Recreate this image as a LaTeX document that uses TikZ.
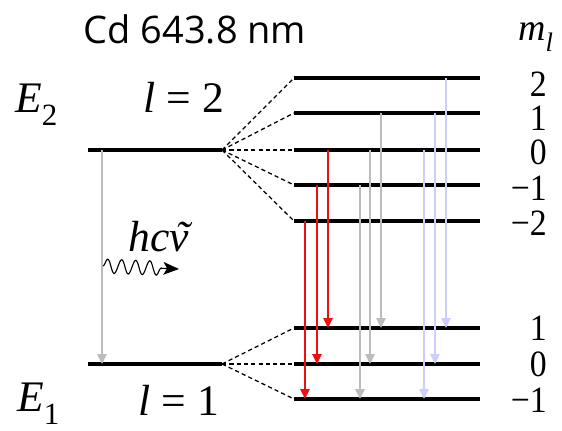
\documentclass[tikz,border=0pt]{standalone}
\usepackage{fontspec}
\setmainfont{Liberation Serif}
\newfontfamily\titlesans{Open Sans}
\usetikzlibrary{arrows.meta,decorations.pathmorphing}
\definecolor{ink}{RGB}{0,0,0}
\definecolor{redline}{RGB}{238,16,16}
\definecolor{greyline}{RGB}{188,188,188}
\definecolor{lilac}{RGB}{206,206,252}
\newcommand{\lowsub}[1]{\raisebox{-0.3em}{\fontsize{22}{24}\selectfont #1}}
\newcommand{\nutilde}{\ooalign{ν\cr\hidewidth\kern0.15em˜\hidewidth\cr}}
\tikzset{
  lvl/.style={line width=2.8pt, draw=ink},
  split/.style={dash pattern=on 3pt off 2.2pt, line width=0.9pt, draw=ink},
  tr/.style={-{Triangle[length=7pt,width=6.5pt]}, line width=1.4pt, draw=#1},
  big/.style={font=\fontsize{31}{34}\selectfont, inner sep=0pt},
  mval/.style={font=\fontsize{24}{26}\selectfont, inner sep=0pt, anchor=east},
  photon/.style={-{Stealth[length=11pt,width=9pt,inset=2.5pt]}, line width=0.8pt, decorate,
                 decoration={snake, amplitude=5pt, segment length=10pt, post length=11pt}},
}

\begin{document}
\begin{tikzpicture}[x=0.025cm, y=-0.025cm]
  \useasboundingbox (0,0) rectangle (562,430);

  % term levels
  \coordinate (E2a) at (88,150);  \coordinate (E2b) at (222,150);
  \coordinate (E1a) at (88,364);  \coordinate (E1b) at (222,364);
  \draw[lvl] (E2a) -- (E2b);
  \draw[lvl] (E1a) -- (E1b);

  % Zeeman sublevels
  \foreach \n/\y in {u2/78, u1/113, u0/150, un1/185, un2/221, l1/328, l0/364, ln1/399}
    \coordinate (\n) at (294,\y);
  \foreach \n in {u2,u1,u0,un1,un2,l1,l0,ln1}
    \draw[lvl] (\n) -- ++(186,0);
  \foreach \n in {u2,u1,u0,un1,un2} \draw[split] (E2b) -- (\n);
  \foreach \n in {l1,l0,ln1} \draw[split] (E1b) -- (\n);

  % transitions
  \draw[tr=greyline, line width=1.1pt] (102,0 |- E2a) -- (102,0 |- E1a);
  \foreach \x/\a/\b/\c in {305/un2/ln1/redline, 317/un1/l0/redline, 328/u0/l1/redline,
      360/un1/ln1/greyline, 370/u0/l0/greyline, 381/u1/l1/greyline,
      424/u0/ln1/lilac, 435/u1/l0/lilac, 446/u2/l1/lilac}
    \draw[tr=\c] (\x,0 |- \a) -- (\x,0 |- \b);

  \coordinate (ph0) at (103,266);
  \coordinate (ph1) at (179,269);
  \draw[photon] (ph0) -- (ph1);

  % labels
  \node[font=\titlesans\fontsize{27}{30}\selectfont, inner sep=0pt, anchor=base] (title) at (195,43) {Cd 643.8 nm};
  \node[big, anchor=base west] (E2lbl) at (15,112) {\textit{E}\lowsub{2}};
  \node[big, anchor=base] (l2lbl) at (184,112) {\textit{l} = 2};
  \node[big, anchor=base west] (E1lbl) at (17,411) {\textit{E}\lowsub{1}};
  \node[big, anchor=base] (l1lbl) at (179,415) {\textit{l} = 1};
  \node[big, anchor=base west] (hcv) at (128,251) {\textit{hc\nutilde}};
  \node[font=\fontsize{27}{30}\selectfont, inner sep=0pt, anchor=base west] (mlbl) at (518,40)
    {\textit{m}\raisebox{-0.3em}{\fontsize{19}{20}\selectfont\textit{l}}};
  \foreach \t/\y [count=\i] in {2/84, 1/118, 0/152, −1/188, −2/223, 1/328, 0/364, −1/400}
    \node[mval] (m\i) at (547,\y) {\scalebox{1}[1.1]{\t}};
\end{tikzpicture}
\end{document}
